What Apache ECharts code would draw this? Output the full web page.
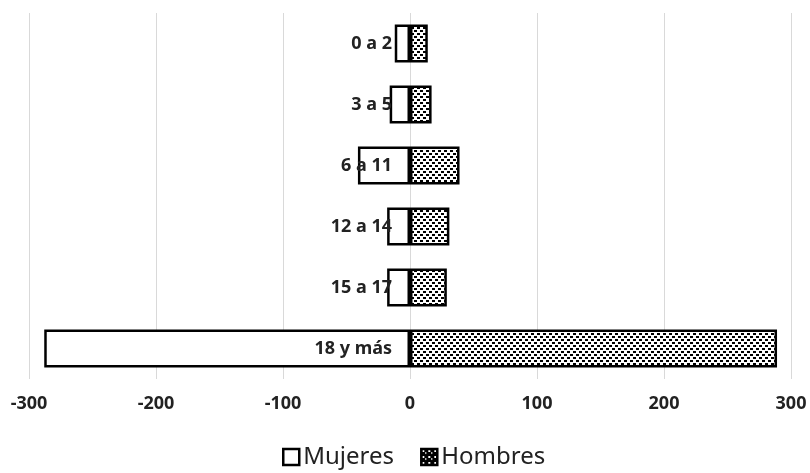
<!DOCTYPE html>
<html><head><meta charset="utf-8">
<script src="https://cdn.jsdelivr.net/npm/echarts@6/dist/echarts.min.js"></script>
<style>html,body{margin:0;padding:0;background:#fff}#c{width:810px;height:473px}</style>
</head><body><div id="c"></div>
<script>
const categories = ['0 a 2', '3 a 5', '6 a 11', '12 a 14', '15 a 17', '18 y más'];
const mujeres = [-12, -16, -41, -18, -18, -288];
const hombres = [14, 17, 39, 31, 29, 289];
const xTicks = [-300, -200, -100, 0, 100, 200, 300];

function dotPattern(bg, fg, dots) {
  const c = document.createElement('canvas');
  c.width = 6; c.height = 6;
  const g = c.getContext('2d');
  g.fillStyle = bg; g.fillRect(0, 0, 6, 6);
  g.fillStyle = fg;
  dots.forEach(d => g.fillRect(d[0], d[1], d[2], d[3]));
  return c;
}
const pat = { image: dotPattern('#fff', '#000', [[0, 0, 3, 2], [3, 3, 3, 2]]), repeat: 'repeat' };
const patLegend = { image: dotPattern('#000', '#fff', [[1, 1, 2, 2], [4, 3, 1, 2]]), repeat: 'repeat' };
const labelFont = '"Noto Sans", "DejaVu Sans", sans-serif';

const W = 810, gridLeft = 29, gridRight = 19;
const xMin = xTicks[0], xMax = xTicks[xTicks.length - 1];
const zeroOffset = -((W - gridLeft - gridRight) * (0 - xMin) / (xMax - xMin));

const chart = echarts.init(document.getElementById('c'), null, { renderer: 'canvas' });
chart.setOption({
  animation: false,
  grid: { left: gridLeft, right: gridRight, top: 13, bottom: 94, containLabel: false, outerBoundsMode: 'none' },
  legend: {
    top: 440, left: 277, itemWidth: 16, itemHeight: 16, itemGap: 26,
    icon: 'rect',
    textStyle: { fontFamily: '"Noto Sans", sans-serif', fontSize: 24, color: '#222', padding: [0, 0, 0, -1] },
    data: [
      { name: 'Mujeres', itemStyle: { color: '#fff', borderColor: '#000', borderWidth: 2.5 } },
      { name: 'Hombres', itemStyle: { color: patLegend, borderColor: '#000', borderWidth: 2.5 } }
    ]
  },
  xAxis: {
    type: 'value', min: xMin, max: xMax, interval: 100,
    axisLine: { show: false }, axisTick: { show: false },
    splitLine: { lineStyle: { color: '#d9d9d9', width: 1 } },
    axisLabel: { margin: 16, fontFamily: labelFont, fontSize: 18, fontWeight: 'bold', color: '#222' }
  },
  yAxis: {
    type: 'category', data: categories, inverse: true, offset: zeroOffset,
    axisLine: { show: false }, axisTick: { show: false },
    axisLabel: { margin: 18, fontFamily: labelFont, fontSize: 18, fontWeight: 'bold', color: '#222' },
    z: 10
  },
  series: [
    { name: 'Mujeres', type: 'bar', data: mujeres, barWidth: 38, barGap: '-100%',
      itemStyle: { color: '#fff', borderColor: '#000', borderWidth: 2.5 } },
    { name: 'Hombres', type: 'bar', data: hombres, barWidth: 38,
      itemStyle: { color: pat, borderColor: '#000', borderWidth: 2.5 } }
  ]
});
</script></body></html>
